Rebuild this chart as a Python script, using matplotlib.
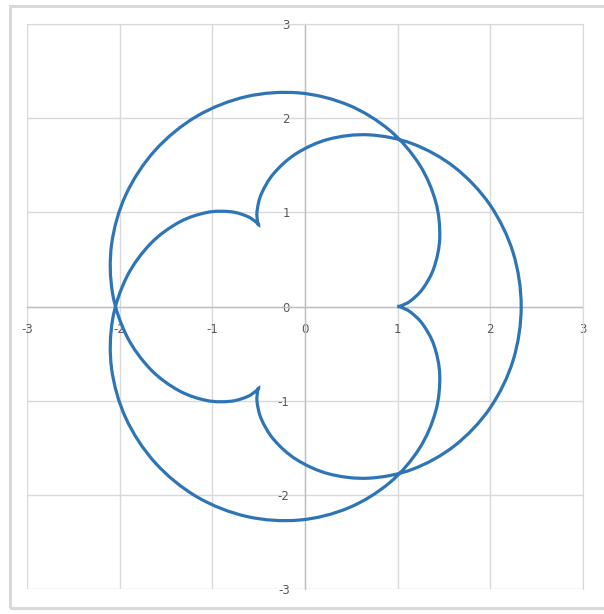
import numpy as np
import matplotlib
matplotlib.use("Agg")
import matplotlib.pyplot as plt
from matplotlib.path import Path
from matplotlib.patches import PathPatch, Rectangle

# curve points (closed loop, last point = first point)
x_vals = [1.000, 1.037, 1.138, 1.271, 1.393, 1.454, 1.411, 1.234, 0.916, 0.471,
          -0.061, -0.628, -1.167, -1.617, -1.933, -2.087, -2.077, -1.923, -1.667,
          -1.360, -1.056, -0.799, -0.620, -0.525, -0.500, -0.512, -0.517, -0.471,
          -0.337, -0.094, 0.256, 0.689, 1.161, 1.616, 1.995, 2.246, 2.333,
          2.246, 1.995, 1.616, 1.161, 0.689, 0.256, -0.094, -0.337, -0.471,
          -0.517, -0.512, -0.500, -0.525, -0.620, -0.799, -1.056, -1.360, -1.667,
          -1.923, -2.077, -2.087, -1.933, -1.617, -1.167, -0.628, -0.061, 0.471,
          0.916, 1.234, 1.411, 1.454, 1.393, 1.271, 1.138, 1.037, 1.000]
y_vals = [0.000, 0.008, 0.059, 0.189, 0.415, 0.731, 1.110, 1.508, 1.869, 2.138,
          2.268, 2.230, 2.021, 1.659, 1.187, 0.661, 0.142, -0.315, -0.667,
          -0.894, -0.999, -1.006, -0.956, -0.894, -0.866, -0.902, -1.015, -1.195,
          -1.413, -1.624, -1.777, -1.823, -1.728, -1.477, -1.081, -0.571, 0.000,
          0.571, 1.081, 1.477, 1.728, 1.823, 1.777, 1.624, 1.413, 1.195,
          1.015, 0.902, 0.866, 0.894, 0.956, 1.006, 0.999, 0.894, 0.667,
          0.315, -0.142, -0.661, -1.187, -1.659, -2.021, -2.230, -2.268, -2.138,
          -1.869, -1.508, -1.110, -0.731, -0.415, -0.189, -0.059, -0.008, 0.000]
ticks = [-3, -2, -1, 0, 1, 2, 3]
tick_labels = ["-3", "-2", "-1", "0", "1", "2", "3"]

line_col = "#2E75B6"
grid_col = "#d9d9d9"
text_col = "#595959"

fig = plt.figure(figsize=(6.04, 6.14), dpi=100)
# outer chart border (right side runs off the picture)
fig.patches.append(Rectangle((10 / 604, 1 - 608 / 614), 620 / 604, 602 / 614,
                             transform=fig.transFigure, fill=False,
                             edgecolor=grid_col, lw=2.2))

ax = fig.add_axes([27 / 604, 1 - 589 / 614, 556 / 604, 565 / 614])
ax.set_xlim(-3, 3)
ax.set_ylim(-3, 3)

# smoothed line like excel: catmull-rom -> cubic bezier, closed loop
pts = np.column_stack([x_vals, y_vals])[:-1]
n = len(pts)
verts = [pts[0]]
codes = [Path.MOVETO]
for i in range(n):
    p0 = pts[(i - 1) % n]
    p1 = pts[i]
    p2 = pts[(i + 1) % n]
    p3 = pts[(i + 2) % n]
    verts += [p1 + (p2 - p0) / 6, p2 - (p3 - p1) / 6, p2]
    codes += [Path.CURVE4] * 3
ax.add_patch(PathPatch(Path(verts, codes), facecolor="none",
                       edgecolor=line_col, lw=2.3, zorder=3))

ax.set_xticks(ticks)
ax.set_yticks(ticks)
ax.set_xticklabels(tick_labels)
ax.set_yticklabels(tick_labels)
ax.grid(True, color=grid_col, lw=1)
for gl in ax.get_xgridlines() + ax.get_ygridlines():
    gl.set_clip_on(False)

ax.spines["left"].set_position("zero")
ax.spines["bottom"].set_position("zero")
for s in ["left", "bottom"]:
    ax.spines[s].set_color("#bfbfbf")
    ax.spines[s].set_linewidth(1)
    ax.spines[s].set_zorder(2)
for s in ["top", "right"]:
    ax.spines[s].set_color(grid_col)
ax.tick_params(axis="both", length=0, labelsize=8.5, labelcolor=text_col)
ax.tick_params(axis="x", pad=12)
ax.tick_params(axis="y", pad=11)
ax.set_axisbelow(True)

fig.savefig("out.png", dpi=100)
